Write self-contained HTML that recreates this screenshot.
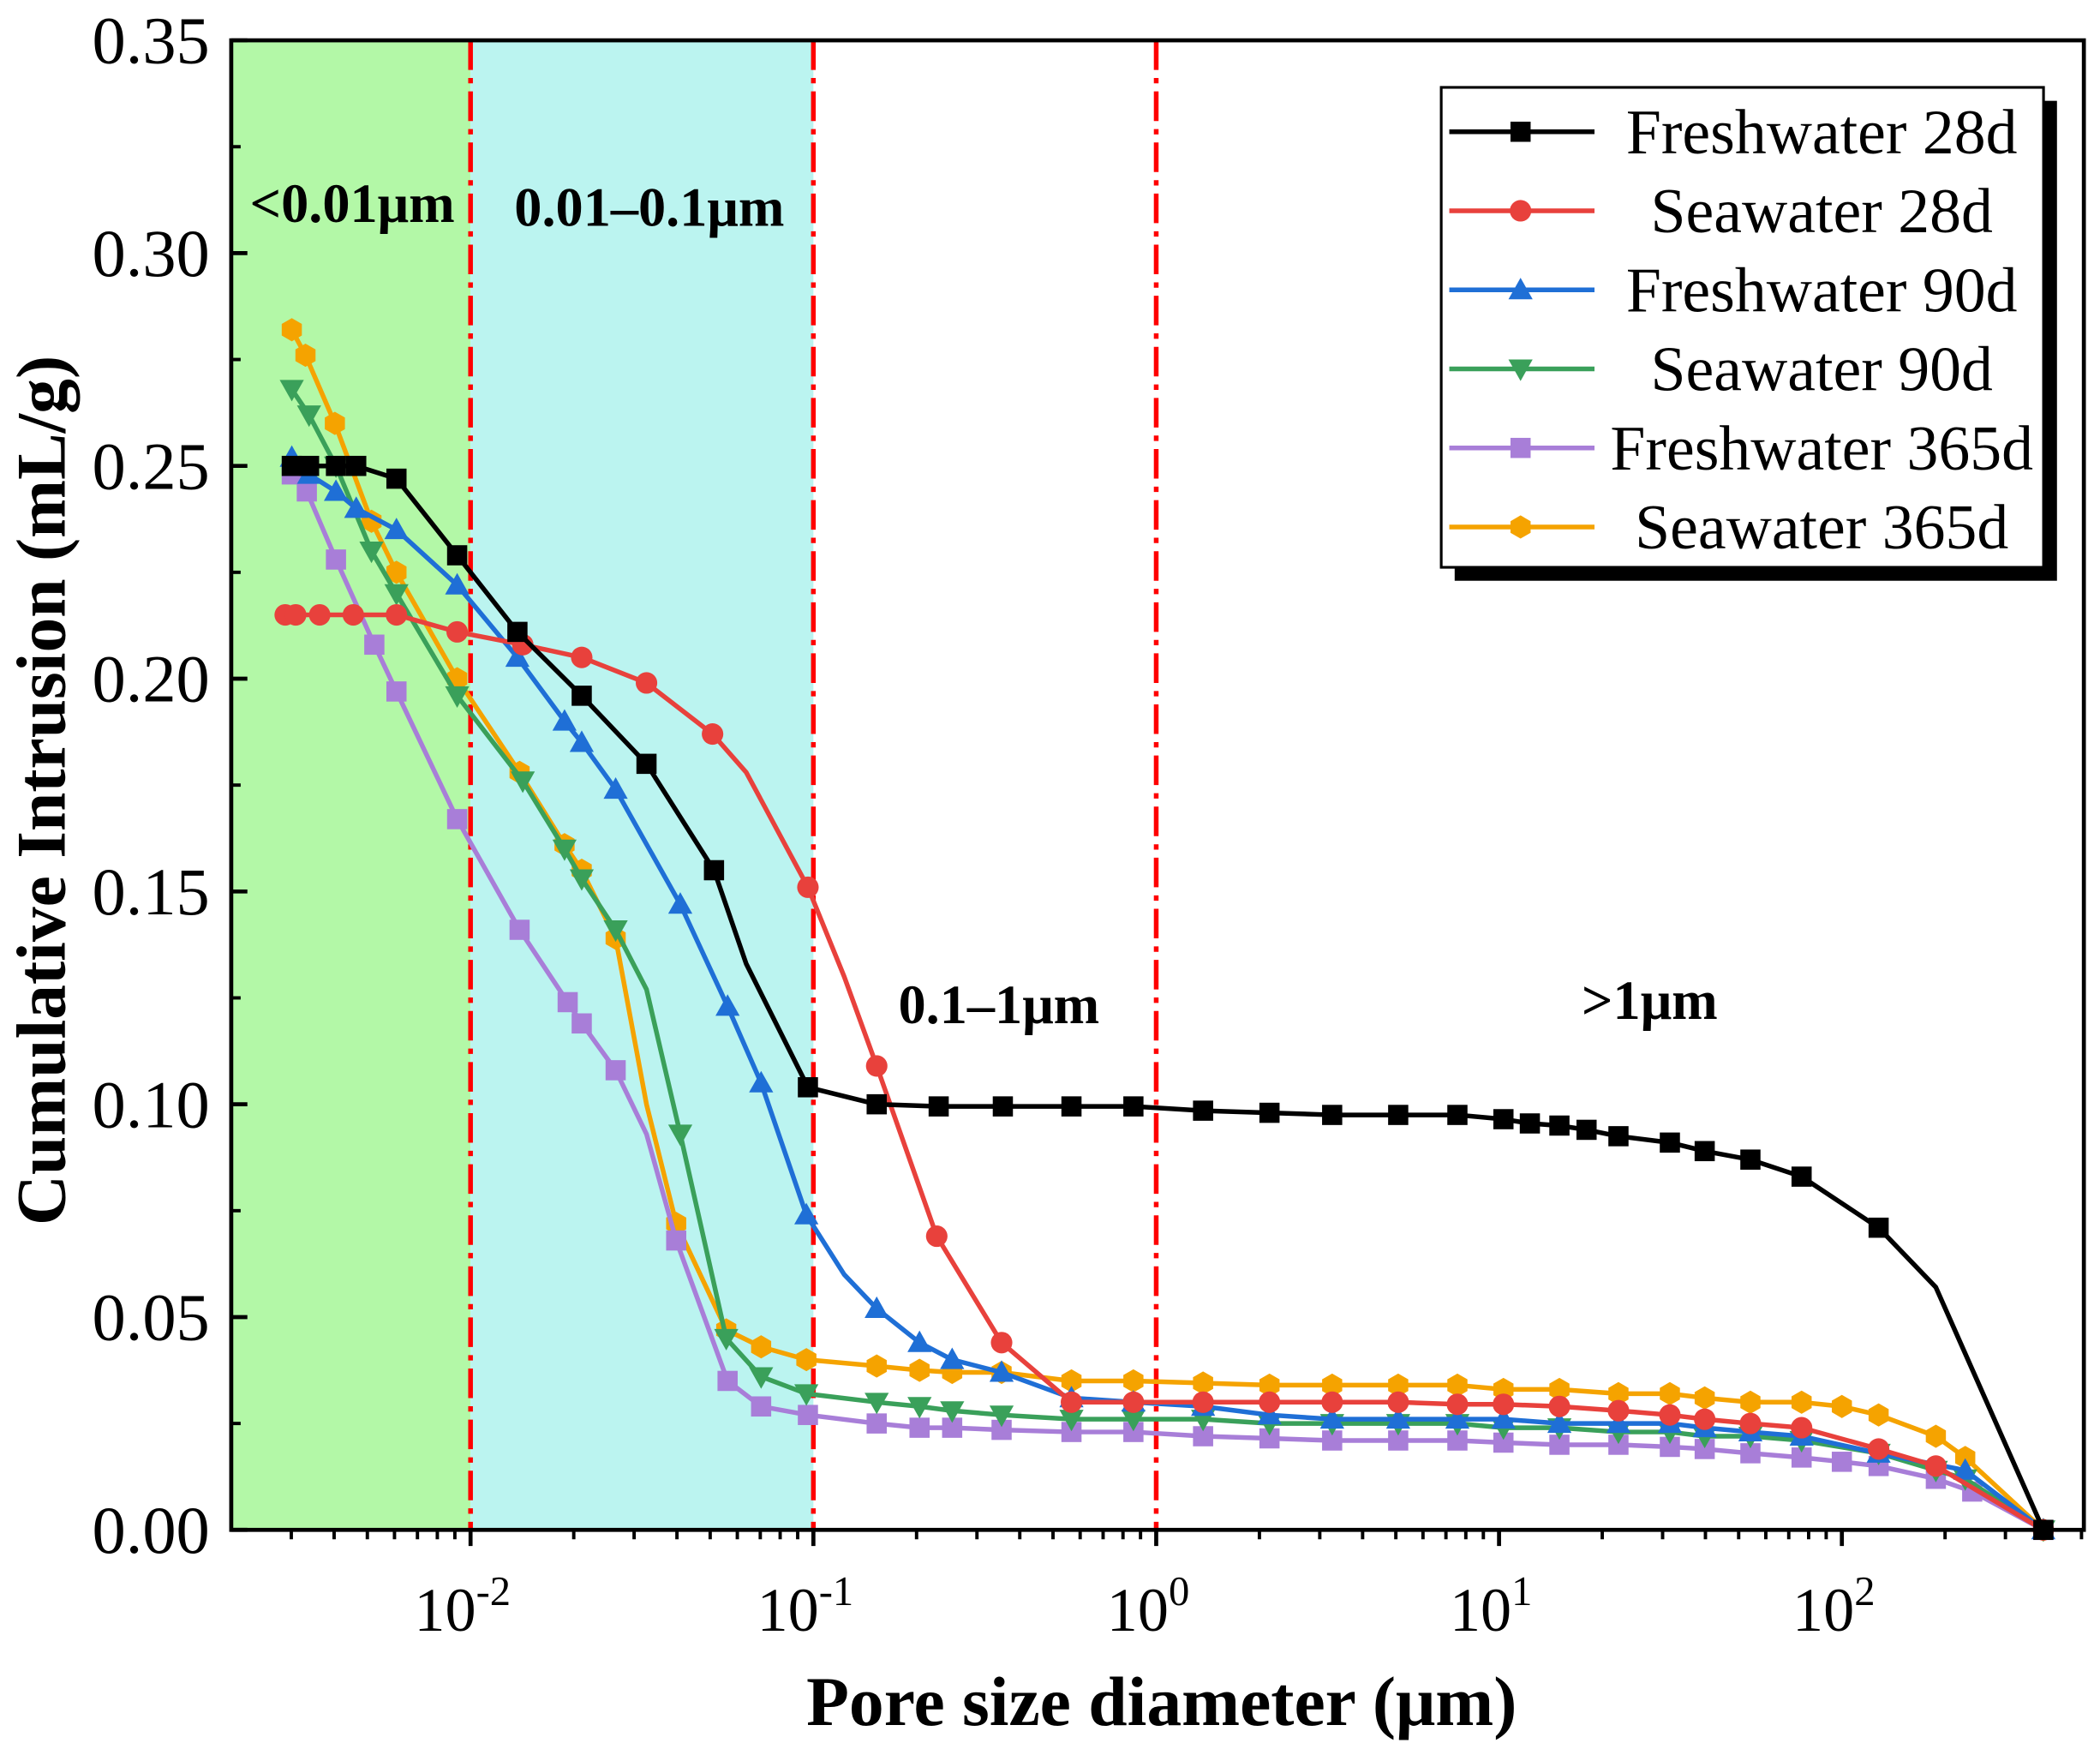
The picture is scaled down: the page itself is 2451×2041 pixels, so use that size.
<!DOCTYPE html>
<html><head><meta charset="utf-8"><style>
html,body{margin:0;padding:0;background:#fff;}
svg{display:block;}
text{font-family:"Liberation Serif",serif;}
</style></head><body>
<svg id="chart" xmlns="http://www.w3.org/2000/svg" width="2451" height="2041" viewBox="0 0 1562 1301" preserveAspectRatio="none">
<rect x="0" y="0" width="1562" height="1301" fill="#fff"/>
<g id="regions"></g>
<g id="series"></g>
<g id="axes"></g>
<g id="legend"></g>
</svg>
<script>
const ns="http://www.w3.org/2000/svg";
// ---- data ----
const seriesNames=["Freshwater 28d","Seawater 28d","Freshwater 90d","Seawater 90d","Freshwater 365d","Seawater 365d"];
const fw28D=[0.00301,0.00338,0.00405,0.00464,0.00608,0.00914,0.0137,0.0211,0.0326,0.0513,0.0637,0.0964,0.153,0.232,0.357,0.566,0.858,1.37,2.14,3.26,5.08,7.56,10.3,12.3,15.0,18.0,22.3,31.5,39.8,54.1,76.3,128,188,387];
const fw28V=[0.250,0.250,0.250,0.250,0.247,0.229,0.211,0.196,0.180,0.155,0.133,0.104,0.100,0.0995,0.0995,0.0995,0.0995,0.0985,0.098,0.0975,0.0975,0.0975,0.0965,0.0955,0.0950,0.0940,0.0925,0.0910,0.0890,0.0870,0.0830,0.0710,0.0570,0.000];
const sw28D=[0.00288,0.00309,0.00363,0.00455,0.00608,0.00914,0.0142,0.0211,0.0326,0.0508,0.0637,0.0964,0.123,0.153,0.229,0.354,0.566,0.858,1.37,2.14,3.26,5.08,7.56,10.3,15.0,22.3,31.5,39.8,54.1,76.3,128,188,387];
const sw28V=[0.215,0.215,0.215,0.215,0.215,0.211,0.208,0.205,0.199,0.187,0.178,0.151,0.130,0.109,0.069,0.044,0.030,0.030,0.030,0.030,0.030,0.030,0.0295,0.0295,0.029,0.028,0.027,0.026,0.025,0.024,0.019,0.015,0.000];
const fw90D=[0.00301,0.00338,0.00405,0.00464,0.00608,0.00914,0.0137,0.0188,0.0211,0.0265,0.0409,0.0562,0.0704,0.0954,0.123,0.153,0.204,0.254,0.354,0.566,0.858,1.37,2.14,3.26,5.08,7.56,10.3,15.0,22.3,31.5,39.8,54.1,76.3,128,229,387];
const fw90V=[0.252,0.248,0.244,0.240,0.235,0.222,0.205,0.190,0.185,0.174,0.147,0.123,0.105,0.074,0.060,0.052,0.044,0.040,0.037,0.031,0.030,0.029,0.027,0.026,0.026,0.026,0.026,0.025,0.025,0.025,0.024,0.023,0.022,0.018,0.014,0.000];
const sw90D=[0.00301,0.00338,0.00405,0.00514,0.00608,0.00914,0.0142,0.0188,0.0211,0.0265,0.0326,0.0409,0.0557,0.0704,0.0954,0.153,0.204,0.254,0.354,0.566,0.858,1.37,2.14,3.26,5.08,7.56,10.3,15.0,22.3,31.5,39.8,54.1,76.3,128,188,229,387];
const sw90V=[0.268,0.262,0.250,0.230,0.220,0.196,0.176,0.160,0.153,0.141,0.127,0.093,0.045,0.036,0.032,0.030,0.029,0.028,0.027,0.026,0.026,0.026,0.025,0.025,0.025,0.025,0.024,0.024,0.023,0.023,0.022,0.022,0.021,0.018,0.014,0.012,0.000];
const fw365D=[0.00301,0.00333,0.00405,0.00524,0.00608,0.00914,0.0139,0.0192,0.0211,0.0265,0.0326,0.0398,0.0562,0.0704,0.0964,0.153,0.204,0.254,0.354,0.566,0.858,1.37,2.14,3.26,5.08,7.56,10.3,15.0,22.3,31.5,39.8,54.1,76.3,100,128,188,240,387];
const fw365V=[0.248,0.244,0.228,0.208,0.197,0.167,0.141,0.124,0.119,0.108,0.093,0.068,0.035,0.029,0.027,0.025,0.024,0.024,0.0235,0.023,0.023,0.022,0.0215,0.021,0.021,0.021,0.0205,0.020,0.020,0.0195,0.019,0.018,0.017,0.016,0.015,0.012,0.009,0.000];
const sw365D=[0.00301,0.00330,0.00402,0.00514,0.00608,0.00914,0.0139,0.0188,0.0211,0.0265,0.0326,0.0398,0.0557,0.0704,0.0954,0.153,0.204,0.254,0.354,0.566,0.858,1.37,2.14,3.26,5.08,7.56,10.3,15.0,22.3,31.5,39.8,54.1,76.3,100,128,188,229,387];
const sw365V=[0.282,0.276,0.260,0.237,0.225,0.200,0.178,0.161,0.155,0.139,0.100,0.072,0.047,0.043,0.040,0.0385,0.0375,0.037,0.037,0.035,0.035,0.0345,0.034,0.034,0.034,0.034,0.033,0.033,0.032,0.032,0.031,0.030,0.030,0.029,0.027,0.022,0.017,0.000];
const noMarker=[[10,32],[10,12],[14],[10],[10],[10]];
const yTicks=[0.00,0.05,0.10,0.15,0.20,0.25,0.30,0.35];
const xTickExp=[-2,-1,0,1,2];
// ---- layout ----
const L=172,R=1550,T=30,B=1138;
function X(d){return 860+255*Math.log10(d);}
function Y(v){return B-(v/0.35)*(B-T);}
function el(tag,attrs,parent,txt){const e=document.createElementNS(ns,tag);for(const k in attrs)e.setAttribute(k,attrs[k]);if(txt!==undefined)e.textContent=txt;parent.appendChild(e);return e;}
const gReg=document.getElementById('regions'),gSer=document.getElementById('series'),gAx=document.getElementById('axes'),gLeg=document.getElementById('legend');
let r=el('rect',{x:L,y:T,width:X(0.01)-L,height:B-T,fill:'#b3f8a7'},gReg);

r=el('rect',{x:X(0.01),y:T,width:X(0.1)-X(0.01),height:B-T,fill:'#bbf4f0'},gReg);

[0.01,0.1,1].forEach(d=>{const l=el('line',{x1:X(d),x2:X(d),y1:T,y2:B,stroke:'#f00','stroke-width':3.5,'stroke-dasharray':'22,6,4,6'},gReg);
});
const regLabels=[["<0.01μm",262,165],["0.01–0.1μm",483,168],["0.1–1μm",743,761],[">1μm",1227,758]];
regLabels.forEach(a=>{const t=el('text',{x:a[1],y:a[2],'font-size':41,'font-weight':'bold','text-anchor':'middle'},gReg,a[0]);
});
const colors=['#000000','#e8413c','#1f6fd6','#3aa05a','#a87ed8','#f5a300'];
const shapes=['square','circle','up','down','square','hex'];
const dataD=[fw28D,sw28D,fw90D,sw90D,fw365D,sw365D],dataV=[fw28V,sw28V,fw90V,sw90V,fw365V,sw365V];
function marker(shape,x,y,c,p){const s=8;let m;
 if(shape==='square')m=el('rect',{x:x-s+0.5,y:y-s+0.5,width:2*s-1,height:2*s-1,fill:c},p);
 else if(shape==='circle')m=el('circle',{cx:x,cy:y,r:s,fill:c},p);
 else if(shape==='up')m=el('polygon',{points:`${x},${y-s-1} ${x+s+1},${y+s-1} ${x-s-1},${y+s-1}`,fill:c},p);
 else if(shape==='down')m=el('polygon',{points:`${x},${y+s+1} ${x+s+1},${y-s+1} ${x-s-1},${y-s+1}`,fill:c},p);
 else{let pts=[];for(let i=0;i<6;i++){const a=Math.PI/6+i*Math.PI/3;pts.push((x+s*1.08*Math.cos(a))+','+(y+s*1.08*Math.sin(a)));}m=el('polygon',{points:pts.join(' '),fill:c},p);}
 return m;}
for(let i=5;i>=0;i--){
 const g=el('g',{},gSer);
 
 
 const pts=dataD[i].map((d,j)=>X(d)+','+Y(dataV[i][j])).join(' ');
 const pl=el('polyline',{points:pts,fill:'none',stroke:colors[i],'stroke-width':3.5,'stroke-linejoin':'round'},g);
 
 dataD[i].forEach((d,j)=>{if(noMarker[i].includes(j))return;const m=marker(shapes[i],X(d),Y(dataV[i][j]),colors[i],g);
  });
}
// axes
const fr=el('rect',{x:L,y:T,width:R-L,height:B-T,fill:'none',stroke:'#000','stroke-width':3},gAx);

yTicks.forEach(v=>{el('line',{x1:L,x2:L+12,y1:Y(v),y2:Y(v),stroke:'#000','stroke-width':3},gAx);
 const t=el('text',{x:156,y:Y(v)+17,'font-size':50,'text-anchor':'end'},gAx,v.toFixed(2));
 });
for(let k=0;k<7;k++){const v=0.025+k*0.05;el('line',{x1:L,x2:L+7,y1:Y(v),y2:Y(v),stroke:'#000','stroke-width':2.5},gAx);}
xTickExp.forEach(e=>{const x=X(Math.pow(10,e));el('line',{x1:x,x2:x,y1:B,y2:B+12,stroke:'#000','stroke-width':3},gAx);
 const t=el('text',{x:x-6,y:1213,'font-size':46,'text-anchor':'middle'},gAx);
 
 el('tspan',{},t,'10');el('tspan',{dy:-19,'font-size':31},t,String(e));});
for(let e=-3;e<=2;e++)for(let k=2;k<=9;k++){const x=X(k*Math.pow(10,e));if(x>L&&x<R)el('line',{x1:x,x2:x,y1:B,y2:B+7,stroke:'#000','stroke-width':2.5},gAx);}
let t=el('text',{x:864,y:1283,'font-size':52,'font-weight':'bold','text-anchor':'middle'},gAx,'Pore size diameter (μm)');

t=el('text',{x:0,y:0,'font-size':52,'font-weight':'bold','text-anchor':'middle',transform:'translate(48,588) rotate(-90)'},gAx,'Cumulative Intrusion (mL/g)');

// legend
el('rect',{x:1082,y:75,width:448,height:357,fill:'#000'},gLeg);
const lb=el('rect',{x:1072,y:65,width:448,height:357,fill:'#fff',stroke:'#000','stroke-width':2},gLeg);

seriesNames.forEach((n,i)=>{const y=98+i*58.8;const g=el('g',{},gLeg);
 
 el('line',{x1:1078,x2:1186,y1:y,y2:y,stroke:colors[i],'stroke-width':3.5},g);
 marker(shapes[i],1131,y,colors[i],g);
 el('text',{x:1355,y:y+16,'font-size':47,'text-anchor':'middle'},g,n);});
</script>
</body></html>
